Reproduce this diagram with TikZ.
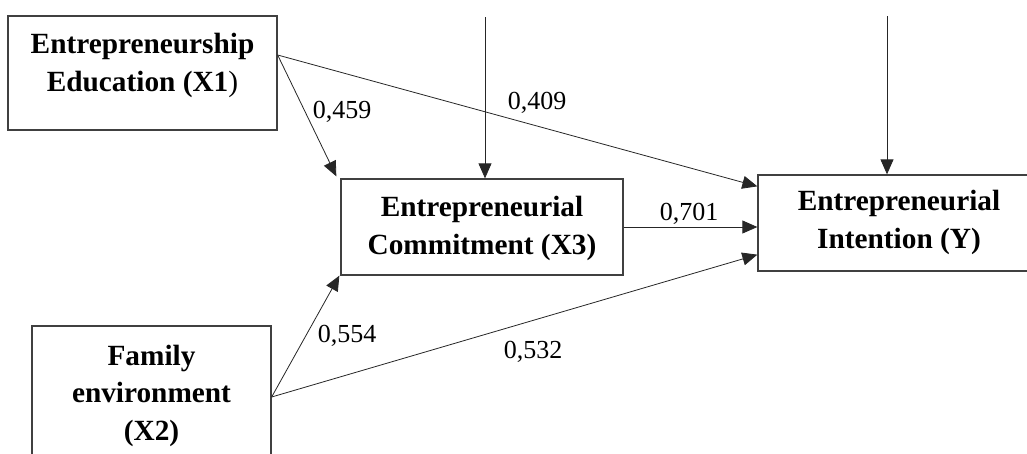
\documentclass[tikz,border=0pt]{standalone}
\usepackage{fontspec}
\setmainfont{Liberation Serif}
\usetikzlibrary{arrows.meta,positioning}
\tikzset{
  box/.style={draw=black!75,line width=1.3pt,inner sep=0pt},
  boxtext/.style={font=\fontsize{29.3}{37.5}\selectfont\bfseries,align=center,anchor=base,inner sep=0pt},
  coef/.style={font=\fontsize{26}{30}\selectfont,anchor=base,inner sep=0pt},
  path/.style={-{Triangle[length=15pt,width=13pt]},line width=0.8pt,draw=black!85}
}
\begin{document}
\begin{tikzpicture}[x=1pt,y=-1pt]
\useasboundingbox (0,0) rectangle (1027,453);
\clip (0,0) rectangle (1027,453);
%\draw[very thin,dashed,step=50] (0,0) grid (1027,453);

% boxes
\node[box,minimum width=269pt,minimum height=114pt] (x1) at (142.5,73) {};
\node[box,minimum width=239pt,minimum height=142pt] (x2) at (151.5,397) {};
\node[box,minimum width=282pt,minimum height=96pt] (x3) at (482,227) {};
\node[box,minimum width=282pt,minimum height=96pt] (y) at (899,223) {};

% text, placed by the baseline of the last line
\node[boxtext] (t1) at (142.5,91) {Entrepreneurship\\Education (X1\textmd{)}};
\node[boxtext] (t2) at (151.5,440) {Family\\environment\\(X2)};
\node[boxtext] (t3) at (482,254) {Entrepreneurial\\Commitment (X3)};
\node[boxtext] (ty) at (899,248) {Entrepreneurial\\Intention (Y)};

% error terms
\coordinate (e3) at (485,17);
\coordinate (ey) at (887,16);
\draw[path] (e3) -- (e3 |- x3.north);
\draw[path] (ey) -- (ey |- y.north);

% paths
\draw[path] ([yshift=18pt]x1.east) -- ([xshift=-4pt,yshift=2pt]x3.north west);
\draw[path] ([yshift=18pt]x1.east) -- ([yshift=-12pt]y.north west);
\draw[path] (x3.east) -- (x3.east -| y.west);
\draw[path] (x2.east) -- ([xshift=-1pt]x3.south west);
\draw[path] (x2.east) -- ([yshift=17pt]y.south west);

% coefficients
\node[coef] (c13) at (342,118) {0,459};
\node[coef] (c1y) at (537,109) {0,409};
\node[coef] (c3y) at (689,220) {0,701};
\node[coef] (c23) at (347,342) {0,554};
\node[coef] (c2y) at (533,358) {0,532};
\end{tikzpicture}
\end{document}
